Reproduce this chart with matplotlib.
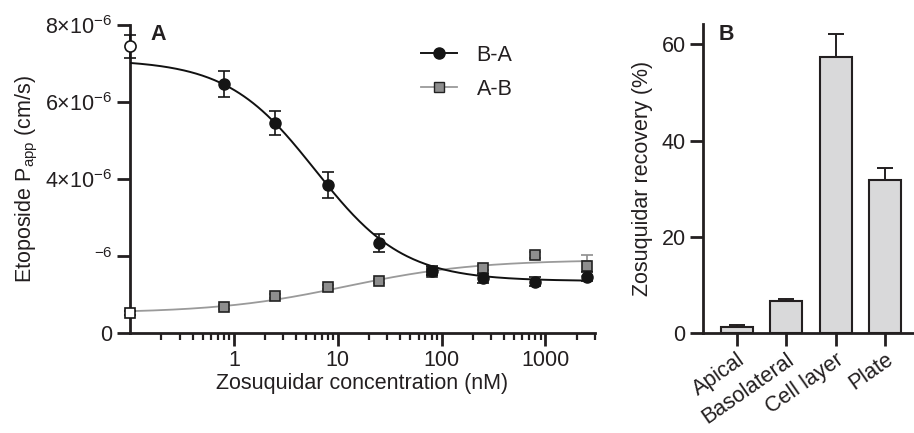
import numpy as np
import matplotlib
matplotlib.use("Agg")
import matplotlib.pyplot as plt
from matplotlib.ticker import FixedLocator, NullFormatter

plt.rcParams['font.family'] = ['Liberation Sans', 'DejaVu Sans']
plt.rcParams['mathtext.fontset'] = 'custom'
plt.rcParams['mathtext.rm'] = 'Liberation Sans'
plt.rcParams['mathtext.it'] = 'Liberation Sans:italic'
plt.rcParams['mathtext.bf'] = 'Liberation Sans:bold'
plt.rcParams['mathtext.default'] = 'regular'
plt.rcParams['axes.unicode_minus'] = False

TXT = '#231f20'

# ---------------- data: panel A ----------------
conc = [0.8, 2.5, 8, 25, 80, 250, 800, 2500]          # nM
ba_mean = [6.47, 5.45, 3.84, 2.34, 1.62, 1.42, 1.33, 1.46]   # x1e-6 cm/s
ba_err = [0.33, 0.32, 0.34, 0.23, 0.12, 0.12, 0.12, 0.12]
ab_mean = [0.67, 0.97, 1.19, 1.34, 1.58, 1.70, 2.03, 1.75]
ab_err = [0.05, 0.05, 0.05, 0.05, 0.08, 0.06, 0.08, 0.28]
ba_zero, ba_zero_err = 7.45, 0.30     # no zosuquidar (drawn on y axis)
ab_zero, ab_zero_err = 0.51, 0.05

# fitted sigmoid parameters (value at low conc, value at high conc, EC50 nM, hill)
ba_fit = (7.10, 1.35, 6.1, 1.02)
ab_fit = (0.52, 1.90, 12.0, 0.70)

ytick_vals = [0, 2, 4, 6, 8]
ytick_labels = ['0', r'$^{-6}$', r'4×10$^{-6}$', r'6×10$^{-6}$', r'8×10$^{-6}$']
xtick_vals = [1, 10, 100, 1000]
xtick_labels = ['1', '10', '100', '1000']

# ---------------- data: panel B ----------------
compartments = ['Apical', 'Basolateral', 'Cell layer', 'Plate']
recovery = [1.4, 6.64, 57.3, 31.8]
recovery_err = [0.25, 0.55, 4.9, 2.6]
yb_ticks = [0, 20, 40, 60]

scale = 1e-6

def sigmoid(x, p):
    low, high, ec50, h = p
    return high + (low - high) / (1 + (x / ec50) ** h)

fig = plt.figure(figsize=(9.14, 4.33), dpi=100)
W, H = 914, 433

# ---------- Panel A ----------
axA = fig.add_axes([130 / W, (H - 333) / H, (595 - 130) / W, (333 - 25) / H])
x0, x1 = 0.1, 3000
axA.set_xscale('log')
axA.set_xlim(x0, x1)
axA.set_ylim(0, 8 * scale)

xx = np.logspace(np.log10(x0), np.log10(2700), 300)
axA.plot(xx, sigmoid(xx, ab_fit) * scale, color='#9a9a9a', lw=1.3, zorder=2)
axA.plot(xx, sigmoid(xx, ba_fit) * scale, color='#111111', lw=1.4, zorder=3)

c = np.array(conc)
axA.errorbar(c, np.array(ab_mean) * scale, yerr=np.array(ab_err) * scale,
             fmt='s', ms=7.5, mfc='#8e8e8e', mec='#222222', mew=1.2,
             ecolor='#8e8e8e', elinewidth=1.2, capsize=4, capthick=1.2, zorder=4)
axA.errorbar(c, np.array(ba_mean) * scale, yerr=np.array(ba_err) * scale,
             fmt='o', ms=8, mfc='#151515', mec='#151515',
             ecolor='#151515', elinewidth=1.2, capsize=4, capthick=1.2, zorder=5)
axA.errorbar([x0], [ab_zero * scale], yerr=[ab_zero_err * scale], fmt='s', ms=7.5,
             mfc='white', mec='#151515', mew=1.2, ecolor='#151515', elinewidth=1.2,
             capsize=4, capthick=1.2, zorder=10, clip_on=False)
axA.errorbar([x0], [ba_zero * scale], yerr=[ba_zero_err * scale], fmt='o', ms=8,
             mfc='white', mec='#151515', mew=1.2, ecolor='#151515', elinewidth=1.2,
             capsize=4, capthick=1.2, zorder=10, clip_on=False)

# legend proxies
hBA, = axA.plot([], [], '-o', color='#151515', ms=8, lw=1.4)
hAB, = axA.plot([], [], '-s', color='#9a9a9a', ms=7.5, mfc='#8e8e8e', mec='#222222', lw=1.3)
leg = axA.legend([hBA, hAB], ['B-A', 'A-B'], loc='upper left',
                 bbox_to_anchor=((412 - 130) / (595 - 130), 1 - (36 - 25) / 308),
                 frameon=False, fontsize=15.5, handlelength=1.7, handletextpad=0.9,
                 labelspacing=0.6, borderaxespad=0)
for t in leg.get_texts():
    t.set_color(TXT)

axA.yaxis.set_major_locator(FixedLocator([v * scale for v in ytick_vals]))
axA.set_yticklabels(ytick_labels)
axA.xaxis.set_major_locator(FixedLocator(xtick_vals))
axA.set_xticklabels(xtick_labels)
minors = []
for dec in [0.1, 1, 10, 100, 1000]:
    for m in range(2, 10):
        v = dec * m
        if v <= x1 * 1.001:
            minors.append(v)
axA.xaxis.set_minor_locator(FixedLocator(minors))
axA.xaxis.set_minor_formatter(NullFormatter())

for s in ['top', 'right']:
    axA.spines[s].set_visible(False)
for s in ['left', 'bottom']:
    axA.spines[s].set_linewidth(2.0)
    axA.spines[s].set_color('#231f20')
axA.tick_params(axis='both', which='major', direction='out', length=9.5, width=2.0,
                color='#231f20', labelsize=15.5, labelcolor=TXT, pad=3)
axA.tick_params(axis='x', which='minor', direction='out', length=5, width=1.6, color='#231f20')
axA.set_xlabel('Zosuquidar concentration (nM)', fontsize=15.5, color=TXT, labelpad=1)
axA.set_ylabel('Etoposide P$_{app}$ (cm/s)', fontsize=15.5, color=TXT, labelpad=4)
axA.text(150 / W, 1 - 35 / H, 'A', transform=fig.transFigure, fontsize=15.5,
         fontweight='bold', color=TXT, ha='left', va='center')

# ---------- Panel B ----------
ylim_top = 64.2
axB = fig.add_axes([703 / W, (H - 333.3) / H, (W - 703) / W, (333.3 - 24) / H])
pos = np.arange(len(compartments))
axB.bar(pos, recovery, width=0.65, color='#d9d9da', edgecolor='#231f20', linewidth=1.5,
        zorder=2)
axB.errorbar(pos, recovery, yerr=[np.zeros(len(pos)), recovery_err], fmt='none',
             ecolor='#231f20', elinewidth=1.4, capsize=5.5, capthick=1.4, zorder=3)
axB.set_xlim(-0.68, 3.58)
axB.set_ylim(0, ylim_top)
axB.set_yticks(yb_ticks)
axB.set_xticks(pos)
axB.set_xticklabels(compartments, rotation=35, ha='right', rotation_mode='anchor')
for s in ['top', 'right']:
    axB.spines[s].set_visible(False)
for s in ['left', 'bottom']:
    axB.spines[s].set_linewidth(2.0)
    axB.spines[s].set_color('#231f20')
axB.tick_params(axis='both', which='major', direction='out', length=9.5, width=2.0,
                color='#231f20', labelsize=15.5, labelcolor=TXT, pad=3)
axB.tick_params(axis='x', pad=2)
axB.set_ylabel('Zosuquidar recovery (%)', fontsize=15.5, color=TXT, labelpad=6)
axB.text(719 / W, 1 - 35 / H, 'B', transform=fig.transFigure, fontsize=15.5,
         fontweight='bold', color=TXT, ha='left', va='center')

fig.savefig('out.png', dpi=100)
